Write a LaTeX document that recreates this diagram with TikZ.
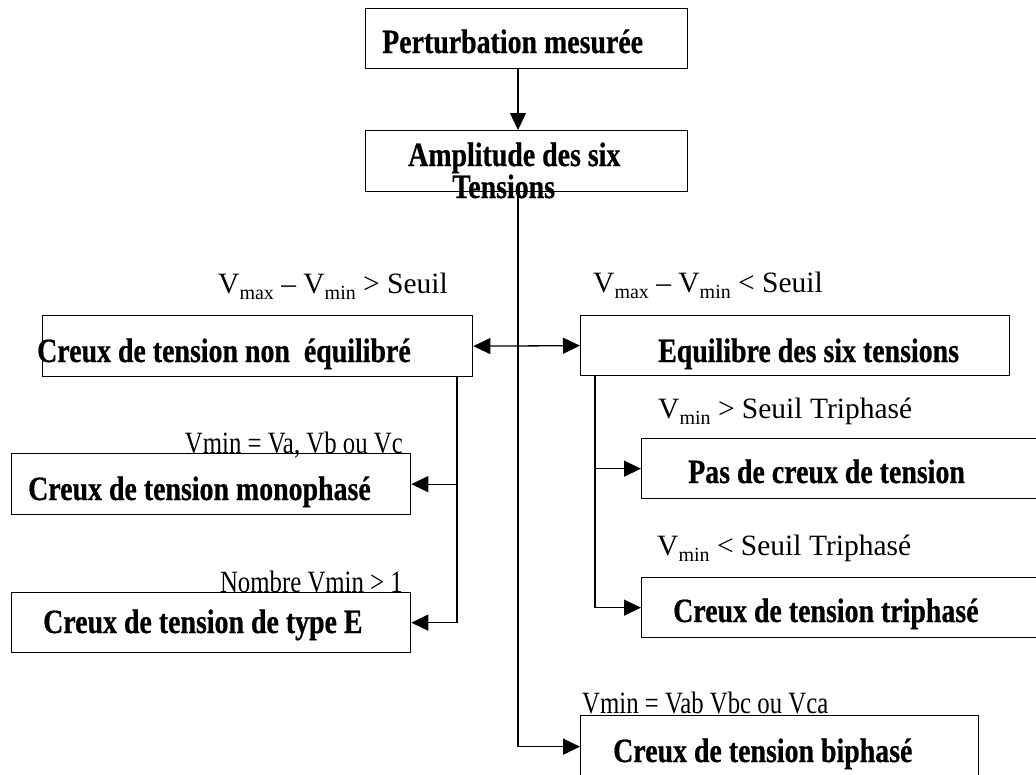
\documentclass[tikz,border=0pt]{standalone}
\usepackage{fontspec}
\setmainfont{Liberation Serif}
\newfontfamily\boxfont[FakeStretch=0.82,FakeBold=0.6]{Liberation Serif}
\newfontfamily\condfont[FakeStretch=0.8]{Liberation Serif}
\usetikzlibrary{arrows.meta}
\newcommand\sbs[1]{\raisebox{-0.22em}{\fontsize{20}{20}\selectfont #1}}
\begin{document}
\begin{tikzpicture}[x=1pt,y=-1pt,
  box/.style={draw, line width=1.3pt, rectangle, inner sep=0pt, anchor=north west},
  btext/.style={anchor=base west, inner sep=0pt, font=\boxfont\bfseries\fontsize{34}{34}\selectfont},
  ctext/.style={anchor=base west, inner sep=0pt, font=\fontsize{29.5}{29.5}\selectfont},
  ntext/.style={anchor=base east, inner sep=0pt, font=\condfont\fontsize{31}{31}\selectfont},
  arr/.style={line width=1.3pt, -{Triangle[length=17pt,width=16pt]}},
  darr/.style={line width=1.3pt, {Triangle[length=17pt,width=16pt]}-{Triangle[length=17pt,width=16pt]}}]
\useasboundingbox (0,0) rectangle (1036,774);
\clip (0,0) rectangle (1036,774);
% boxes
\node[box, minimum width=322pt, minimum height=60pt] (b1) at (365,8) {};
\node[box, minimum width=322pt, minimum height=61pt] (b2) at (365,130) {};
\node[box, minimum width=430pt, minimum height=61pt] (neq) at (42,315) {};
\node[box, minimum width=429pt, minimum height=60pt] (eq) at (580,315) {};
\node[box, minimum width=399pt, minimum height=61pt] (mono) at (11,453) {};
\node[box, minimum width=399pt, minimum height=60pt] (te) at (11,592) {};
\node[box, minimum width=500pt, minimum height=60pt] (pas) at (641,438) {};
\node[box, minimum width=500pt, minimum height=60pt] (tri) at (641,577) {};
\node[box, minimum width=398pt, minimum height=62pt] (bip) at (580,715) {};
% connector columns
\coordinate (sp) at (518,0);
\coordinate (lx) at (457,0);
\coordinate (rx) at (595,0);
\draw[arr] (b1.south -| sp) -- (b2.north -| sp);
\draw[arr] (b2.south -| sp) |- (bip.west);
\draw[darr] (neq.east) -- (eq.west);
\draw[arr] (neq.south -| lx) |- (te.east);
\draw[arr] (lx |- mono.east) -- (mono.east);
\draw[arr] (eq.south -| rx) |- (tri.west);
\draw[arr] (rx |- pas.west) -- (pas.west);
% box texts
\node[btext] (t1) at (382,53) {Perturbation mesurée};
\node[btext] (t2) at (408,166) {Amplitude des six};
\node[btext] (t3) at (452,198) {Tensions};
\node[btext] (t4) at (37,362) {Creux de tension non\ \ équilibré};
\node[btext] (t5) at (658,362) {Equilibre des six tensions};
\node[btext] (t6) at (28,500) {Creux de tension monophasé};
\node[btext] (t7) at (43,633) {Creux de tension de type E};
\node[btext] (t8) at (688,483) {Pas de creux de tension};
\node[btext] (t9) at (673,622) {Creux de tension triphasé};
\node[btext] (t10) at (613,762) {Creux de tension biphasé};
% condition labels
\node[ctext] (c1) at (218,293) {V\sbs{max} – V\sbs{min} > Seuil};
\node[ctext] (c2) at (593,292) {V\sbs{max} – V\sbs{min} < Seuil};
\node[ctext] (c3) at (658,418) {V\sbs{min} > Seuil Triphasé};
\node[ctext] (c4) at (657,555) {V\sbs{min} < Seuil Triphasé};
\node[ntext] (c5) at (403,453) {Vmin = Va, Vb ou Vc};
\node[ntext] (c6) at (403,592) {Nombre Vmin > 1};
\node[ntext, anchor=base west] (c7) at (582,713) {Vmin = Vab Vbc ou Vca};
\end{tikzpicture}
\end{document}
